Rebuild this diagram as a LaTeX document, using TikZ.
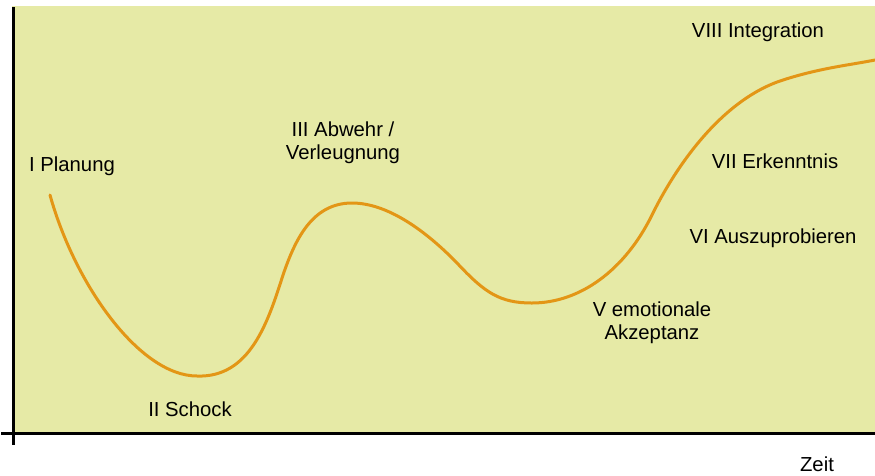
\documentclass[tikz,border=0pt]{standalone}
\usepackage{fontspec}
\setmainfont{Liberation Sans}
\definecolor{bgyellow}{RGB}{230,234,166}
\definecolor{curveorange}{RGB}{227,150,22}
\begin{document}
\begin{tikzpicture}[x=1pt,y=-1pt,
  lbl/.style={inner sep=0pt,font=\fontsize{20.3}{23}\selectfont,align=center,text=black},
  axis/.style={line width=3pt,black},
  phase/.style={line width=3pt,curveorange,line cap=round}]
\useasboundingbox (0,0) rectangle (875,475);
\fill[bgyellow] (12,6) rectangle (875,433);
% axes
\coordinate (ytop) at (13,7);
\coordinate (ybot) at (13,445);
\coordinate (xl) at (1,433);
\coordinate (xr) at (875,433);
\draw[axis] (ytop) -- (ybot);
\draw[axis] (xl) -- (xr);
% curve points
\coordinate (p0) at (50,195);
\coordinate (p1) at (197,376);
\coordinate (p2) at (283,275);
\coordinate (p3) at (352,203);
\coordinate (p4) at (457,263);
\coordinate (p5) at (532,303);
\coordinate (p6) at (652,215);
\coordinate (p7) at (783,80);
\coordinate (p8) at (875,60);
\draw[phase] (p0) .. controls (75,285) and (140,376) .. (p1)
  .. controls (250,378) and (268,322) .. (p2)
  .. controls (295,240) and (312,203) .. (p3)
  .. controls (387,203) and (425,230) .. (p4)
  .. controls (485,293) and (500,303) .. (p5)
  .. controls (580,303) and (625,270) .. (p6)
  .. controls (674,170) and (720,100) .. (p7)
  .. controls (820,68) and (850,65) .. (p8);
% labels
\node[lbl] (l1) at (72,166) {I Planung};
\node[lbl] (l2) at (190,409) {II Schock};
\node[lbl] (l3) at (343,142.5) {III Abwehr /\\Verleugnung};
\node[lbl] (l5) at (652,322.5) {V emotionale\\Akzeptanz};
\node[lbl] (l6) at (773,238) {VI Auszuprobieren};
\node[lbl] (l7) at (775,161) {VII Erkenntnis};
\node[lbl] (l8) at (758,32) {VIII Integration};
\node[lbl] (zeit) at (817,464) {Zeit};
\end{tikzpicture}
\end{document}
